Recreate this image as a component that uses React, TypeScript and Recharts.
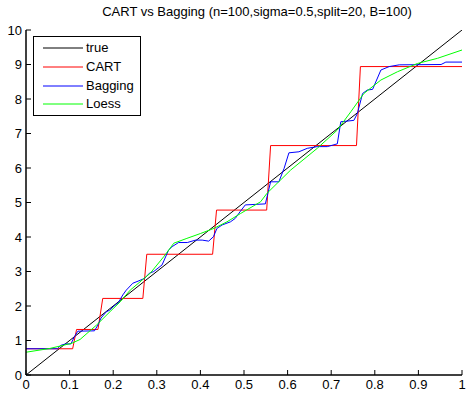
import { LineChart, Line, XAxis, YAxis } from "recharts";

const chartTitle = "CART vs Bagging (n=100,sigma=0.5,split=20, B=100)";

const xTicks = [0, 0.1, 0.2, 0.3, 0.4, 0.5, 0.6, 0.7, 0.8, 0.9, 1];
const yTicks = [0, 1, 2, 3, 4, 5, 6, 7, 8, 9, 10];

// true function
const trueX = [0, 1];
const trueY = [0, 10];

// CART step fit (corner points)
const cartX = [0, 0.107, 0.116, 0.165, 0.176, 0.268, 0.277, 0.428, 0.437, 0.552, 0.561, 0.758, 0.767, 1];
const cartY = [0.76, 0.76, 1.32, 1.32, 2.22, 2.22, 3.5, 3.5, 4.78, 4.78, 6.65, 6.65, 8.94, 8.94];

// bagged trees
const bagX = [
  0, 0.072, 0.08, 0.09, 0.103, 0.111, 0.119, 0.157, 0.165, 0.172, 0.184, 0.192, 0.2, 0.212,
  0.222, 0.23, 0.245, 0.257, 0.272, 0.283, 0.293, 0.312, 0.327, 0.335, 0.35, 0.37, 0.389,
  0.404, 0.419, 0.43, 0.438, 0.45, 0.469, 0.48, 0.492, 0.503, 0.549, 0.561, 0.58, 0.592,
  0.603, 0.626, 0.645, 0.668, 0.691, 0.714, 0.722, 0.752, 0.76, 0.772, 0.783, 0.795, 0.814,
  0.833, 0.856, 0.952, 0.963, 1,
];
const bagY = [
  0.76, 0.76, 0.86, 0.9, 0.9, 1.11, 1.27, 1.28, 1.45, 1.65, 1.83, 1.88, 1.98, 2.1,
  2.32, 2.46, 2.66, 2.72, 2.8, 2.95, 3.0, 3.19, 3.62, 3.72, 3.84, 3.84, 3.91,
  3.91, 3.88, 4.01, 4.25, 4.35, 4.44, 4.54, 4.75, 4.93, 4.96, 5.6, 5.6, 5.99,
  6.44, 6.47, 6.57, 6.62, 6.62, 6.7, 7.34, 7.38, 7.58, 8.16, 8.26, 8.28, 8.84,
  8.94, 8.99, 9.0, 9.07, 9.07,
];

// loess smooth
const loessX = [
  0, 0.055, 0.105, 0.124, 0.162, 0.193, 0.216, 0.239, 0.285, 0.316, 0.339, 0.369, 0.4,
  0.431, 0.461, 0.492, 0.538, 0.553, 0.607, 0.668, 0.714, 0.745, 0.775, 0.814, 0.852,
  0.898, 0.944, 1,
];
const loessY = [
  0.66, 0.77, 0.92, 1.03, 1.45, 1.84, 2.12, 2.46, 2.95, 3.43, 3.82, 3.96, 4.1,
  4.25, 4.44, 4.68, 5.02, 5.27, 5.94, 6.57, 7.1, 7.63, 8.16, 8.55, 8.79,
  9.03, 9.18, 9.42,
];

const seriesNames = ["true", "CART", "Bagging", "Loess"];
const seriesColors = ["#000000", "#ff0000", "#0000ff", "#00ff00"];

const toPoints = (xs: number[], ys: number[]) => xs.map((x, i) => ({ x, y: ys[i] }));

const seriesData = [
  toPoints(trueX, trueY),
  toPoints(cartX, cartY),
  toPoints(bagX, bagY),
  toPoints(loessX, loessY),
];

const font = '"Liberation Sans", Arial, sans-serif';

function LegendBox() {
  return (
    <div
      style={{
        position: "absolute",
        left: 33,
        top: 36,
        width: 106,
        height: 78,
        border: "1px solid #000",
        background: "#fff",
        fontFamily: font,
        fontSize: 13,
        color: "#000",
      }}
    >
      {seriesNames.map((name, i) => (
        <div
          key={name}
          style={{ position: "absolute", left: 0, top: 11 + i * 18.8 - 9, height: 18, width: 106 }}
        >
          <svg width={50} height={18} style={{ position: "absolute", left: 0, top: 0 }}>
            <line x1={9} x2={49} y1={9} y2={9} stroke={seriesColors[i]} strokeWidth={1} />
          </svg>
          <span style={{ position: "absolute", left: 52, top: 0, lineHeight: "18px" }}>{name}</span>
        </div>
      ))}
    </div>
  );
}

export default function App() {
  const tickStyle = { fontFamily: font, fontSize: 13, fill: "#000" };
  return (
    <div style={{ position: "absolute", left: 0, top: 0, width: 466, height: 393, background: "#fff" }}>
      <div
        style={{
          position: "absolute",
          left: 0,
          width: 514,
          top: 4,
          textAlign: "center",
          fontFamily: font,
          fontSize: 13,
          color: "#000",
          whiteSpace: "nowrap",
        }}
      >
        {chartTitle}
      </div>
      <LineChart width={466} height={393} margin={{ top: 30, right: 4, bottom: 0, left: 0 }}>
        <XAxis
          dataKey="x"
          type="number"
          domain={[0, 1]}
          ticks={xTicks}
          interval={0}
          height={18}
          tickSize={-5}
          tickMargin={10}
          tick={tickStyle}
          axisLine={{ stroke: "#000", strokeWidth: 1.5 }}
          tickLine={{ stroke: "#000" }}
          allowDataOverflow
        />
        <XAxis
          xAxisId="top"
          orientation="top"
          dataKey="x"
          type="number"
          domain={[0, 1]}
          ticks={xTicks}
          interval={0}
          height={0}
          tickSize={-5}
          tick={false}
          axisLine={{ stroke: "#000", strokeWidth: 1.5 }}
          tickLine={{ stroke: "#000" }}
        />
        <YAxis
          type="number"
          domain={[0, 10]}
          ticks={yTicks}
          interval={0}
          width={26}
          tickSize={-5}
          tickMargin={9}
          tick={tickStyle}
          axisLine={{ stroke: "#000", strokeWidth: 1.5 }}
          tickLine={{ stroke: "#000" }}
          allowDataOverflow
        />
        <YAxis
          yAxisId="right"
          orientation="right"
          type="number"
          domain={[0, 10]}
          ticks={yTicks}
          interval={0}
          width={0}
          tickSize={-5}
          tick={false}
          axisLine={{ stroke: "#000", strokeWidth: 1.5 }}
          tickLine={{ stroke: "#000" }}
        />
        {seriesData.map((d, i) => (
          <Line
            key={seriesNames[i]}
            data={d}
            dataKey="y"
            name={seriesNames[i]}
            type="linear"
            stroke={seriesColors[i]}
            strokeWidth={1}
            dot={false}
            activeDot={false}
            isAnimationActive={false}
          />
        ))}
      </LineChart>
      <LegendBox />
    </div>
  );
}
